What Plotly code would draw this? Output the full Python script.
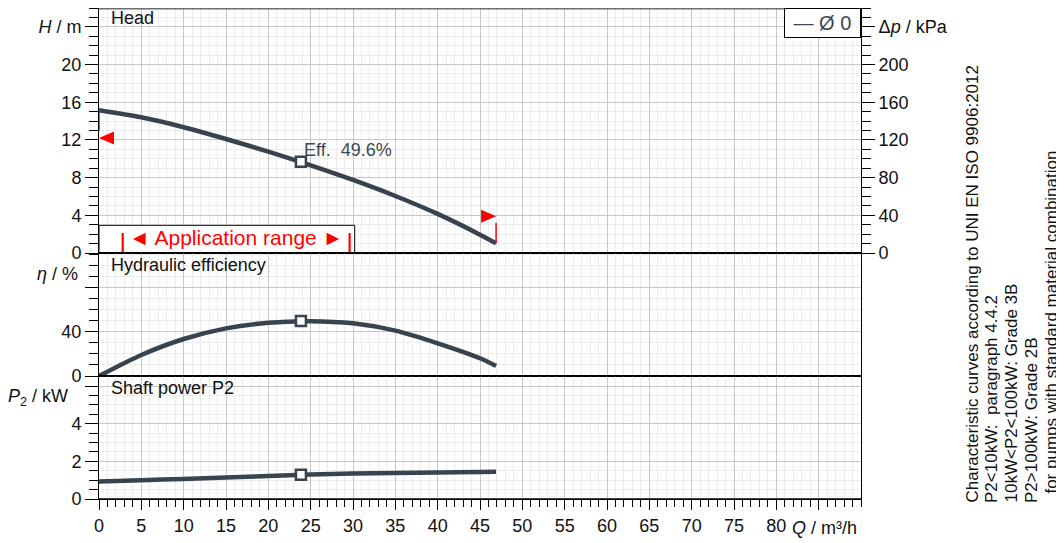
import plotly.graph_objects as go

# ---------------- data ----------------
flow_q = [0, 5, 10, 15, 20, 25, 30, 35, 40, 45, 46.9]
head_h = [15.15, 14.4, 13.35, 12.1, 10.75, 9.3, 7.75, 6.05, 4.15, 1.95, 1.03]
eff_eta = [0, 19, 33.4, 43, 48.1, 49.5, 47.5, 40.9, 29.5, 16, 9]
power_p2 = [0.93, 1.0, 1.07, 1.14, 1.22, 1.3, 1.35, 1.38, 1.41, 1.44, 1.45]

bep_q = 23.85
bep_h = 9.68
bep_eta = 49.6
bep_p2 = 1.29

series_name = "Ø 0"
app_range_q = [2.8, 29.6]
limit_q = [0, 46.9]
limit_h = [12.2, 3.9]

x_tick_vals = list(range(0, 90, 5))
x_tick_text = [str(v) for v in range(0, 85, 5)] + [""]
h_tick_vals = [0, 4, 8, 12, 16, 20, 24]
h_tick_text = ["0", "4", "8", "12", "16", "20", "<i>H</i> / m"]
dp_tick_vals = [0, 40, 80, 120, 160, 200, 240]
dp_tick_text = ["0", "40", "80", "120", "160", "200", "Δ<i>p</i> / kPa"]
eta_tick_vals = [0, 40, 80]
eta_tick_text = ["0", "40", ""]
p2_tick_vals = [0, 2, 4, 6]
p2_tick_text = ["0", "2", "4", ""]

side_notes = [
    "Characteristic curves according to UNI EN ISO 9906:2012",
    "P2&lt;10kW:\u00a0 paragraph 4.4.2",
    "10kW&lt;P2&lt;100kW: Grade 3B",
    "P2&gt;100kW: Grade 2B",
    "\u00a0\u00a0for pumps with standard material combination",
]

# ---------------- geometry (window pixels; page body has an 8px margin) ----------------
OFF = 8
W, HGT = 1064, 543
L, R, T, B = 99, 861, 8, 499
pw, ph = R - L, B - T
Q_MAX, H_MAX, DP_MAX, ETA_MAX, P2_MAX = 90, 26, 260, 111, 6.54


def px_x(px):
    return (px - L) / pw


def px_y(py):
    return (B - py) / ph


dom_top = [px_y(253), 1]
dom_mid = [px_y(376), px_y(253)]
dom_bot = [0, px_y(376)]

FONT = "Liberation Sans, Arial, sans-serif"
CURVE = "#39434d"
GRID_MAJ = "#c8c8c8"
GRID_MIN = "#ebebeb"
RED = "#ff0000"

fig = go.Figure()

# curves
fig.add_trace(go.Scatter(x=flow_q, y=head_h, xaxis="x", yaxis="y", mode="lines",
                         line=dict(color=CURVE, width=4.5, shape="spline", smoothing=0.8),
                         hoverinfo="skip"))
fig.add_trace(go.Scatter(x=flow_q, y=[h * 10 for h in head_h], xaxis="x", yaxis="y4",
                         mode="lines", line=dict(width=0), opacity=0, hoverinfo="skip"))
fig.add_trace(go.Scatter(x=flow_q, y=eff_eta, xaxis="x2", yaxis="y2", mode="lines",
                         line=dict(color=CURVE, width=4.5, shape="spline", smoothing=0.8),
                         hoverinfo="skip"))
fig.add_trace(go.Scatter(x=flow_q, y=power_p2, xaxis="x3", yaxis="y3", mode="lines",
                         line=dict(color=CURVE, width=4.5, shape="spline", smoothing=0.8),
                         hoverinfo="skip"))

# BEP markers
for xa, ya, yv in [("x", "y", bep_h), ("x2", "y2", bep_eta), ("x3", "y3", bep_p2)]:
    fig.add_trace(go.Scatter(x=[bep_q], y=[yv], xaxis=xa, yaxis=ya, mode="markers",
                             marker=dict(symbol="square", size=10, color="white",
                                         line=dict(color=CURVE, width=2.5)),
                             hoverinfo="skip"))

# application range limit markers (triangles + connector lines)
px_per_q = pw / Q_MAX
px_per_h = (253 - T) / H_MAX
tri_len = 15 / px_per_q
tri_half = 6.5 / px_per_h
tri_x, tri_y = [], []
for q, h, d in zip(limit_q, limit_h, [-1, 1]):
    tri_x += [q, q - d * tri_len, q - d * tri_len, q, None]
    tri_y += [h, h + tri_half, h - tri_half, h, None]
fig.add_trace(go.Scatter(x=tri_x, y=tri_y, xaxis="x", yaxis="y", mode="lines",
                         fill="toself", fillcolor=RED, line=dict(width=0, color=RED),
                         cliponaxis=False, hoverinfo="skip"))
conn_x = [limit_q[0], limit_q[0], None, limit_q[1], limit_q[1]]
conn_y = [limit_h[0] + tri_half, head_h[0], None, limit_h[1] - tri_half, head_h[-1]]
fig.add_trace(go.Scatter(x=conn_x, y=conn_y, xaxis="x", yaxis="y", mode="lines",
                         line=dict(color=RED, width=1.5), cliponaxis=False, hoverinfo="skip"))

# application range bars
bar_top = 20 / px_per_h
bar_x, bar_y = [], []
for q in app_range_q:
    bar_x += [q, q, None]
    bar_y += [0, bar_top, None]
fig.add_trace(go.Scatter(x=bar_x, y=bar_y, xaxis="x", yaxis="y", mode="lines",
                         line=dict(color=RED, width=2.2), hoverinfo="skip"))

# ---------------- axes ----------------
xbase = dict(range=[0, Q_MAX], showline=True, linecolor="black", linewidth=1, mirror=True,
             tickmode="array", tickvals=x_tick_vals, ticktext=x_tick_text,
             showgrid=True, gridcolor=GRID_MAJ, gridwidth=1, zeroline=False, fixedrange=True,
             tickfont=dict(family=FONT, size=18, color="#111"))
x_hidden = dict(xbase, showticklabels=False, ticks="",
                minor=dict(tickmode="linear", tick0=0, dtick=1, showgrid=True,
                           gridcolor=GRID_MIN, gridwidth=1, ticks=""))
x_bottom = dict(xbase, ticks="outside", ticklen=10, tickcolor="black", tickwidth=1,
                minor=dict(tickmode="linear", tick0=0, dtick=1, showgrid=True,
                           gridcolor=GRID_MIN, gridwidth=1, ticks="outside", ticklen=7,
                           tickcolor="black"))


def ybase(dom, rng, tv, tt, mdt, anchor):
    return dict(domain=dom, range=rng, anchor=anchor, showline=True, linecolor="black",
                linewidth=1, mirror=True, tickmode="array", tickvals=tv, ticktext=tt,
                ticks="outside", ticklen=13, tickcolor="black", tickwidth=1,
                showgrid=True, gridcolor=GRID_MAJ, gridwidth=1, zeroline=False,
                fixedrange=True, layer="below traces",
                tickfont=dict(family=FONT, size=18, color="#111"),
                minor=dict(tickmode="linear", tick0=0, dtick=mdt, showgrid=True,
                           gridcolor=GRID_MIN, gridwidth=1, ticks="outside", ticklen=9,
                           tickcolor="black"))


fig.update_layout(
    width=W, height=HGT,
    margin=dict(l=L - OFF, r=W + OFF - R, t=T - OFF, b=HGT + OFF - B, pad=0),
    paper_bgcolor="white", plot_bgcolor="white",
    showlegend=False,
    font=dict(family=FONT, size=18, color="#111"),
    xaxis=dict(x_hidden, anchor="y"),
    xaxis2=dict(x_hidden, anchor="y2", matches="x3"),
    xaxis3=dict(x_bottom, anchor="y3"),
    yaxis=ybase(dom_top, [0, H_MAX], h_tick_vals, h_tick_text, 1, "x"),
    yaxis2=ybase(dom_mid, [0, ETA_MAX], eta_tick_vals, eta_tick_text, 10, "x2"),
    yaxis3=ybase(dom_bot, [0, P2_MAX], p2_tick_vals, p2_tick_text, 0.5, "x3"),
    yaxis4=dict(overlaying="y", side="right", anchor="x", range=[0, DP_MAX],
                showline=True, linecolor="black", linewidth=1, tickmode="array",
                tickvals=dp_tick_vals, ticktext=dp_tick_text, ticks="outside", ticklen=13,
                tickcolor="black", showgrid=False, zeroline=False, fixedrange=True,
                tickfont=dict(family=FONT, size=18, color="#111"),
                minor=dict(tickmode="linear", tick0=0, dtick=10, ticks="outside",
                           ticklen=9, tickcolor="black", showgrid=False)),
)

# application range box
fig.add_shape(type="rect", xref="x", yref="y", x0=0, x1=app_range_q[1] + 0.6,
              y0=0, y1=27.7 / px_per_h, fillcolor="white",
              line=dict(color="black", width=1), layer="between")
# top border and solid panel dividers
fig.add_shape(type="line", xref="paper", yref="paper", x0=0, x1=1, y0=1, y1=1,
              line=dict(color="#6e6e6e", width=3))
for yb in [dom_mid[0], dom_top[0], 0]:
    fig.add_shape(type="line", xref="paper", yref="paper", x0=0, x1=1, y0=yb, y1=yb,
                  line=dict(color="black", width=1.5), layer="above")

ann = []


def add_text(text, x, y, xanchor="left", yanchor="middle", size=18, color="#111", **kw):
    ann.append(dict(text=text, x=x, y=y, xref=kw.pop("xref", "paper"),
                    yref=kw.pop("yref", "paper"), xanchor=xanchor, yanchor=yanchor,
                    showarrow=False, font=dict(family=FONT, size=size, color=color), **kw))


add_text("Head", px_x(109), px_y(18))
add_text("Hydraulic efficiency", px_x(109), px_y(265))
add_text("Shaft power P2", px_x(109), px_y(388))
add_text("<i>η</i> / %", px_x(80), px_y(274), xanchor="right")
add_text("<i>P</i><sub>2</sub> / kW", px_x(70), px_y(397), xanchor="right")
add_text("<i>Q</i> / m³/h", px_x(859), px_y(528), xanchor="right")
add_text("Eff.\u00a0 %.1f%%" % bep_eta, bep_q, bep_h, xref="x", yref="y",
         yshift=12, xshift=1, size=18, color="#3d4852")
add_text("◄ Application range ►", sum(app_range_q) / 2, 13 / px_per_h + 0.25,
         xref="x", yref="y", xanchor="center", size=21, color=RED)
add_text("\u00a0— " + series_name + "\u00a0", 1, 1, xanchor="right", yanchor="top", size=20,
         color="#3d4852", bgcolor="white", bordercolor="black", borderwidth=1,
         borderpad=3)

note_x = [972, 991, 1011, 1031, 1051]
for txt, nx in zip(side_notes, note_x):
    add_text(txt, px_x(nx), px_y(505), xanchor="center", yanchor="bottom",
             size=17, color="#111", textangle=-90)

fig.update_layout(annotations=ann)
fig.write_html("out.html")
